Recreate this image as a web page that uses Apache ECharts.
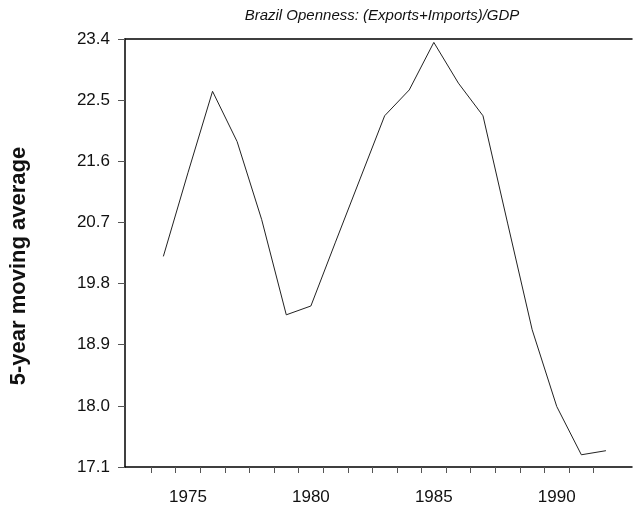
<!DOCTYPE html>
<html>
<head>
<meta charset="utf-8">
<script src="https://cdn.jsdelivr.net/npm/echarts@6/dist/echarts.min.js"></script>
<style>html,body{margin:0;padding:0;background:#fff}#c{width:635px;height:506px}</style>
</head>
<body>
<div id="c"></div>
<script>
const years = [1974,1975,1976,1977,1978,1979,1980,1981,1982,1983,1984,1985,1986,1987,1988,1989,1990,1991,1992];
const values = [20.2,21.43,22.63,21.89,20.74,19.34,19.47,20.41,21.34,22.27,22.65,23.35,22.75,22.27,20.69,19.12,17.99,17.28,17.34];
const xLabelYears = [1975,1980,1985,1990];
const xTickPositions = [1973.5,1974.5,1975.5,1976.5,1977.5,1978.5,1979.5,1980.5,1981.5,1982.5,1983.5,1984.5,1985.5,1986.5,1987.5,1988.5,1989.5,1990.5,1991.5];
const titleText = 'Brazil Openness: (Exports+Imports)/GDP';
const yName = '5-year moving average';

const chart = echarts.init(document.getElementById('c'), null, {renderer:'canvas'});
chart.setOption({
  animation:false,
  backgroundColor:'#fff',
  title:{text:titleText,left:377,top:3,textAlign:'center',
    textStyle:{fontFamily:'Liberation Sans',fontStyle:'italic',fontWeight:'normal',fontSize:15,color:'#111'}},
  grid:{left:125,right:3,top:39,bottom:39,containLabel:false},
  xAxis:[{
    type:'value',min:1972.44,max:1993.06,position:'bottom',
    axisLine:{show:true,lineStyle:{color:'#000',width:1.5}},
    axisTick:{show:true,customValues:xTickPositions,length:6,lineStyle:{color:'#555',width:1}},
    axisLabel:{show:true,customValues:xLabelYears,margin:22,fontFamily:'Liberation Sans',fontSize:17,color:'#111',formatter:v=>String(Math.round(v))},
    splitLine:{show:false}
  },{
    type:'value',min:1972.44,max:1993.06,position:'top',
    axisLine:{show:true,lineStyle:{color:'#000',width:1.5}},
    axisTick:{show:false},axisLabel:{show:false},splitLine:{show:false}
  }],
  yAxis:{
    type:'value',min:17.1,max:23.4,interval:0.9,
    axisLine:{show:true,lineStyle:{color:'#000',width:1.5}},
    axisTick:{show:true,length:7,lineStyle:{color:'#555',width:1}},
    axisLabel:{margin:15,fontFamily:'Liberation Sans',fontSize:17,color:'#111',formatter:v=>v.toFixed(1)},
    splitLine:{show:false}
  },
  graphic:[{type:'text',x:19,y:266,rotation:Math.PI/2,
    style:{text:yName,fontFamily:'Liberation Sans',fontWeight:'bold',fontSize:22,fill:'#111',
      textAlign:'center',textVerticalAlign:'middle'}}],
  series:[{type:'line',xAxisIndex:0,data:years.map((y,i)=>[y,values[i]]),
    symbol:'none',lineStyle:{color:'#222',width:1},silent:true}]
});
</script>
</body>
</html>
